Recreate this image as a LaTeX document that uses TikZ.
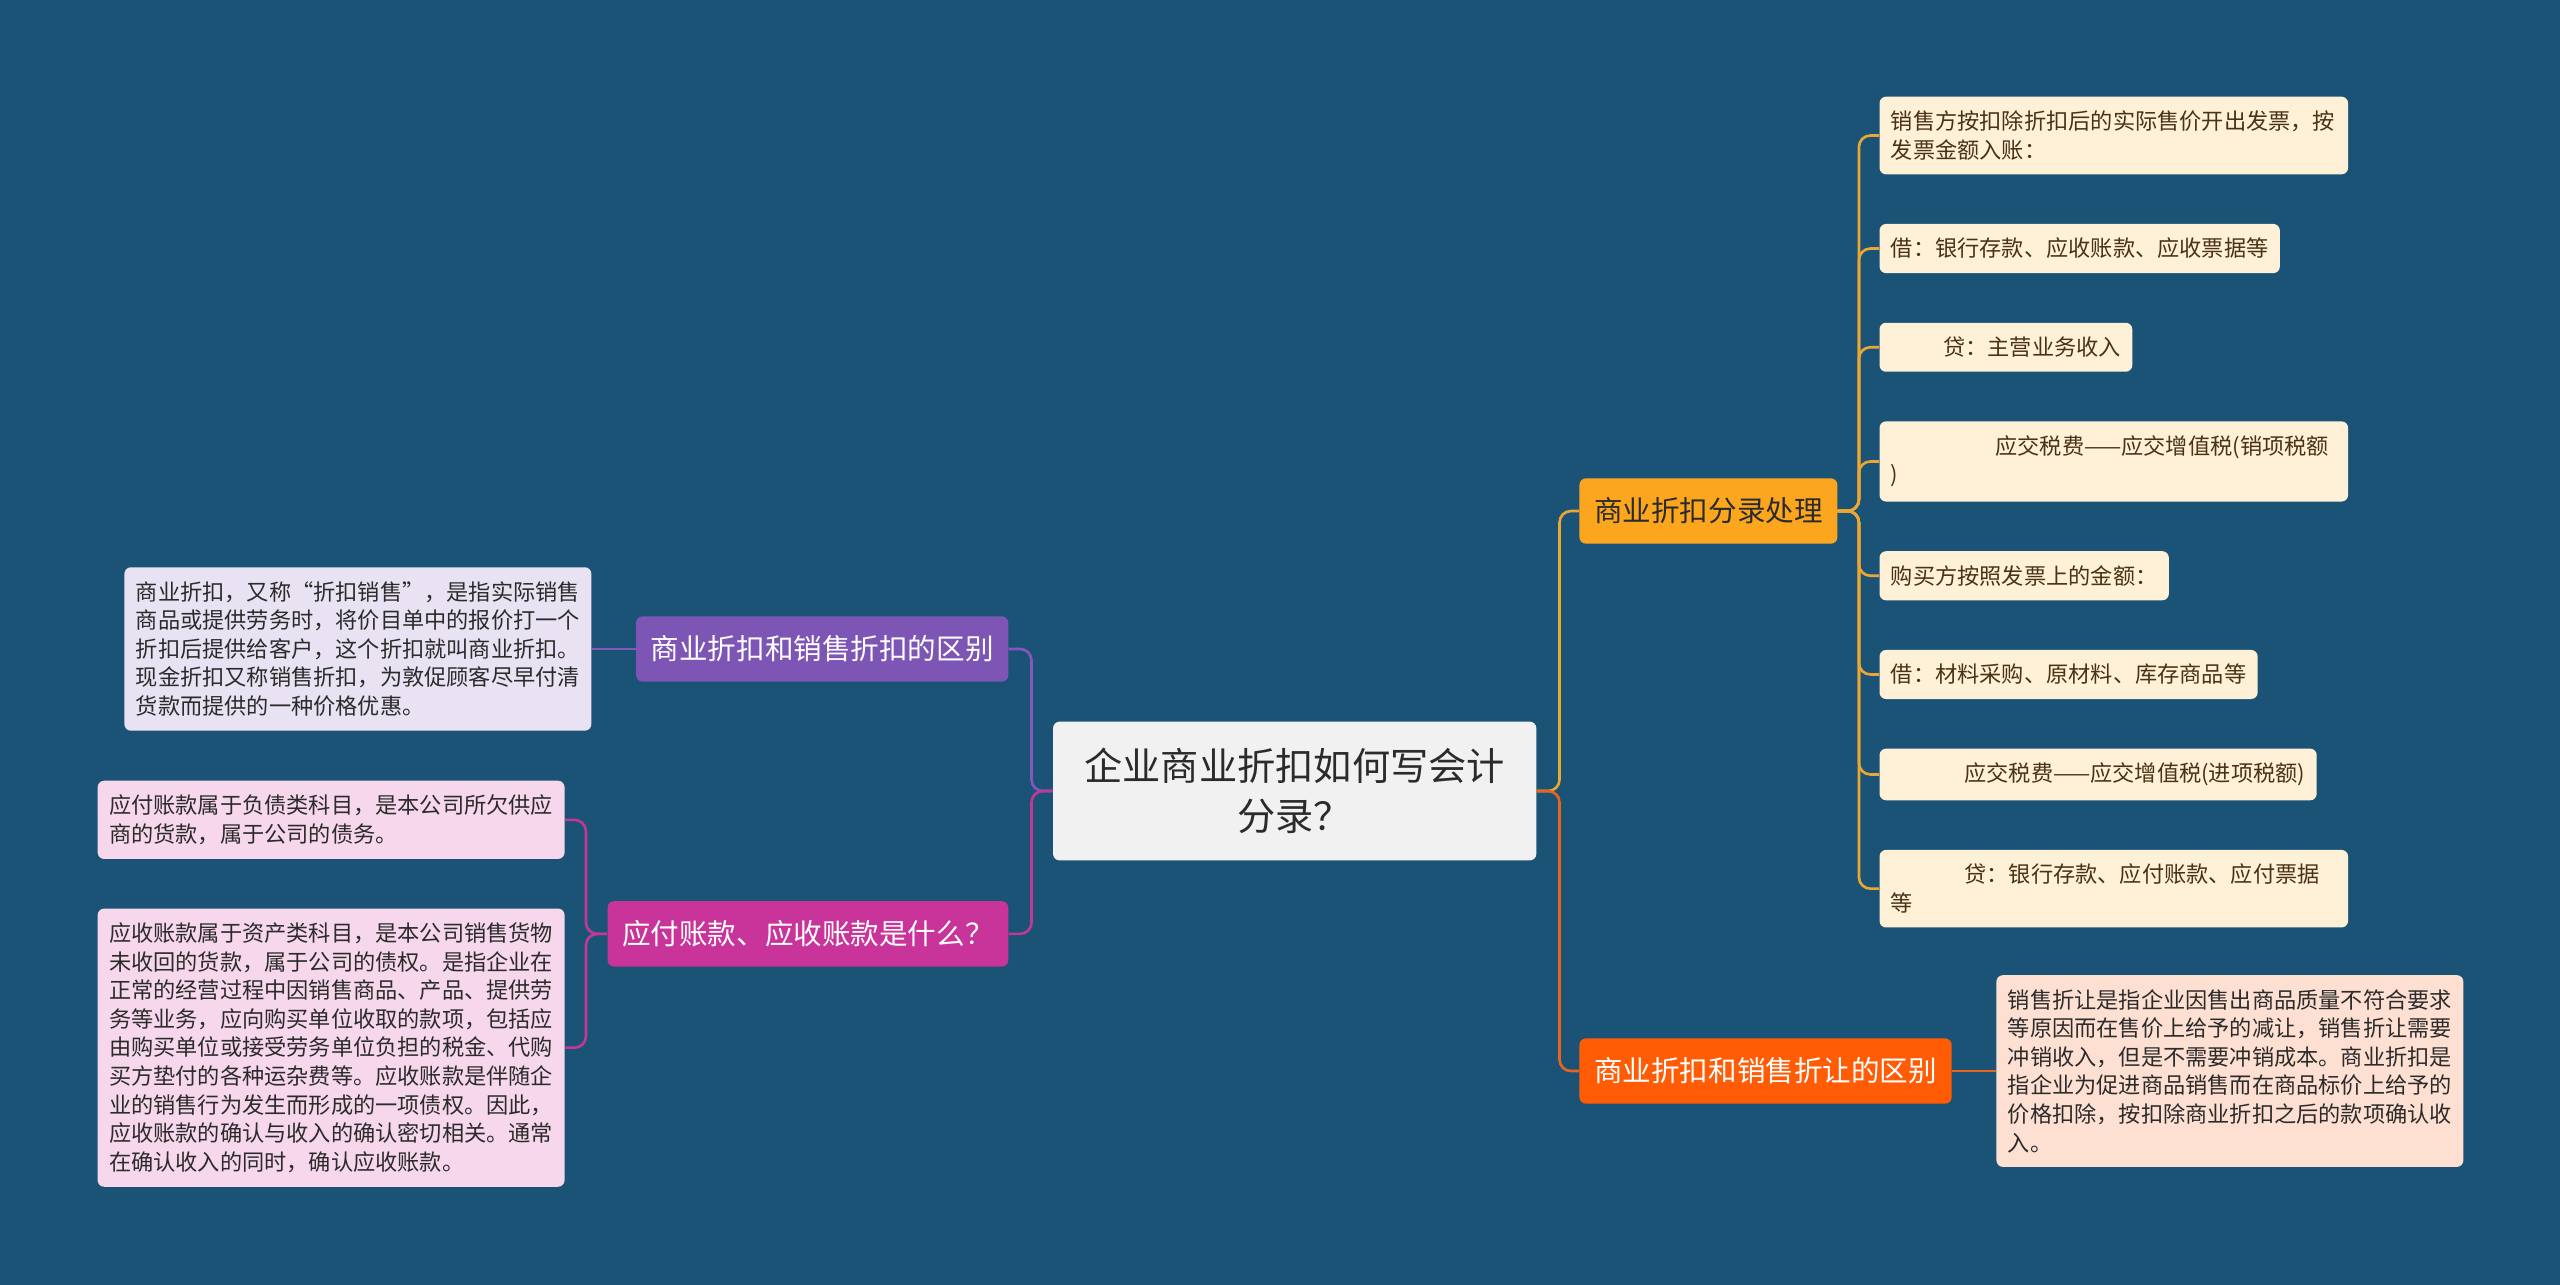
\documentclass[tikz,border=0pt]{standalone}
\usepackage{fontspec}
\setmainfont{Noto Sans CJK SC}
\usetikzlibrary{positioning}
\definecolor{bg}{RGB}{27,83,118}
\definecolor{rootfill}{RGB}{241,241,241}
\definecolor{inktext}{RGB}{43,43,43}
\definecolor{topicgold}{RGB}{251,166,30}
\definecolor{linegold}{RGB}{236,166,50}
\definecolor{topicflame}{RGB}{255,92,5}
\definecolor{lineflame}{RGB}{233,100,31}
\definecolor{topicviolet}{RGB}{125,85,181}
\definecolor{lineviolet}{RGB}{133,87,190}
\definecolor{topicberry}{RGB}{201,52,155}
\definecolor{lineberry}{RGB}{194,56,151}
\definecolor{creamfill}{RGB}{254,241,216}
\definecolor{creamtext}{RGB}{74,50,20}
\definecolor{peachfill}{RGB}{254,224,210}
\definecolor{lavfill}{RGB}{232,226,242}
\definecolor{pinkfill}{RGB}{246,215,236}
\tikzset{
  rootbox/.style={fill=rootfill, text=inktext, rounded corners=4pt, align=center, inner sep=0pt, minimum width=296pt, minimum height=85pt, font=\fontsize{23.4}{31}\selectfont},
  topicbox/.style={rounded corners=4pt, inner xsep=9pt, inner ysep=0pt, minimum height=40pt, text=white, font=\fontsize{17.5}{21}\selectfont},
  notebox/.style={rounded corners=4pt, align=left, inner xsep=7pt, inner ysep=8.7pt, text=inktext, font=\fontsize{13.6}{17.5}\selectfont},
  entrybox/.style={notebox, fill=creamfill, text=creamtext},
  widebox/.style={text width=273pt},
  link/.style={line width=1.6pt, rounded corners=7pt}
}
\begin{document}
\begin{tikzpicture}[x=1pt, y=-1pt, node distance=30pt]
\fill[bg] (0,0) rectangle (1568,787);
\useasboundingbox (0,0) rectangle (1568,787);
\node[rootbox] (root) at (793,484.5) {企业商业折扣如何写会计\\分录？};
\node[topicbox, fill=topicgold, text=inktext, right=26pt of root.east, yshift=171.5pt] (entry) {商业折扣分录处理};
\node[topicbox, fill=topicflame, right=26pt of root.east, yshift=-171.5pt] (allow) {商业折扣和销售折让的区别};
\node[topicbox, fill=topicviolet, left=27pt of root.west, yshift=87pt] (diff) {商业折扣和销售折扣的区别};
\node[topicbox, fill=topicberry, left=27pt of root.west, yshift=-87.5pt] (acct) {应付账款、应收账款是什么？};
\node[entrybox, widebox, anchor=north west] (e1) at (1151,59) {销售方按扣除折扣后的实际售价开出发票，按\\发票金额入账：};
\node[entrybox, below=of e1.south west, anchor=north west] (e2) {借：银行存款、应收账款、应收票据等};
\node[entrybox, below=of e2.south west, anchor=north west] (e3) {\hspace*{32pt}贷：主营业务收入};
\node[entrybox, widebox, below=of e3.south west, anchor=north west] (e4) {\hspace*{64pt}应交税费——应交增值税(销项税额\\)};
\node[entrybox, below=of e4.south west, anchor=north west] (e5) {购买方按照发票上的金额：};
\node[entrybox, below=of e5.south west, anchor=north west] (e6) {借：材料采购、原材料、库存商品等};
\node[entrybox, below=of e6.south west, anchor=north west] (e7) {\hspace*{45pt}应交税费——应交增值税(进项税额)};
\node[entrybox, widebox, below=of e7.south west, anchor=north west] (e8) {\hspace*{45pt}贷：银行存款、应付账款、应付票据\\等};
\node[notebox, fill=peachfill, right=27pt of allow] (note) {销售折让是指企业因售出商品质量不符合要求\\等原因而在售价上给予的减让，销售折让需要\\冲销收入，但是不需要冲销成本。商业折扣是\\指企业为促进商品销售而在商品标价上给予的\\价格扣除，按扣除商业折扣之后的款项确认收\\入。};
\node[notebox, fill=lavfill, left=27pt of diff] (defn) {商业折扣，又称“折扣销售”，是指实际销售\\商品或提供劳务时，将价目单中的报价打一个\\折扣后提供给客户，这个折扣就叫商业折扣。\\现金折扣又称销售折扣，为敦促顾客尽早付清\\货款而提供的一种价格优惠。};
\node[notebox, fill=pinkfill, anchor=north east] (pay) at (346,478) {应付账款属于负债类科目，是本公司所欠供应\\商的货款，属于公司的债务。};
\node[notebox, fill=pinkfill, below=of pay.south east, anchor=north east] (recv) {应收账款属于资产类科目，是本公司销售货物\\未收回的货款，属于公司的债权。是指企业在\\正常的经营过程中因销售商品、产品、提供劳\\务等业务，应向购买单位收取的款项，包括应\\由购买单位或接受劳务单位负担的税金、代购\\买方垫付的各种运杂费等。应收账款是伴随企\\业的销售行为发生而形成的一项债权。因此，\\应收账款的确认与收入的确认密切相关。通常\\在确认收入的同时，确认应收账款。};
\draw[link, linegold] (root.east) -- ++(14,0) |- (entry.west);
\draw[link, lineflame] (root.east) -- ++(14,0) |- (allow.west);
\draw[link, lineviolet] (root.west) -- ++(-13,0) |- (diff.east);
\draw[link, lineberry] (root.west) -- ++(-13,0) |- (acct.east);
\foreach \n in {1,...,8}
  \draw[link, linegold] (entry.east) -- ++(13,0) |- (e\n.west);
\draw[link, lineflame] (allow) -- (note);
\draw[link, lineviolet] (diff) -- (defn);
\draw[link, lineberry] (acct.west) -- ++(-13,0) |- (pay.east);
\draw[link, lineberry] (acct.west) -- ++(-13,0) |- (recv.east);
\end{tikzpicture}
\end{document}
